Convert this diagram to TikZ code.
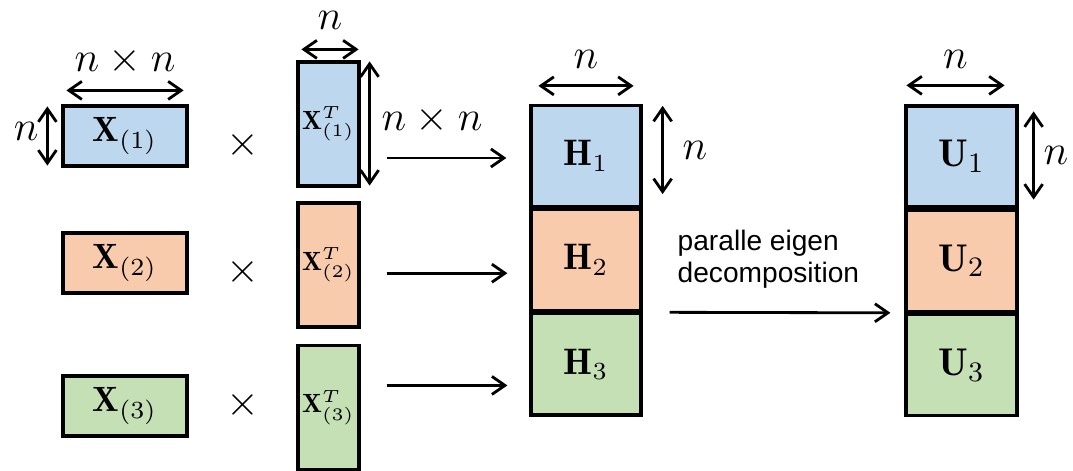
\documentclass[tikz,border=0pt]{standalone}
\usepackage{amsmath}
\usepackage{fontspec}
\newfontfamily\notefont{Liberation Sans}
\usetikzlibrary{positioning,calc,arrows.meta}

\definecolor{matblue}{RGB}{189,215,238}
\definecolor{matorange}{RGB}{248,203,173}
\definecolor{matgreen}{RGB}{197,224,180}

\tikzset{
    >={Straight Barb[length=1.3mm, width=1.8mm]},
    mat/.style={draw, line width=0.9pt, inner sep=0pt, font=\fontsize{10}{12}\selectfont},
    matT/.style={mat, minimum width=0.61cm, minimum height=1.24cm, font=\fontsize{7.5}{9}\selectfont},
    matX/.style={mat, minimum width=1.24cm, minimum height=0.60cm},
    matH/.style={mat, minimum width=1.10cm, minimum height=1.01cm, font=\fontsize{10.5}{12}\selectfont},
    matU/.style={mat, minimum width=1.11cm, minimum height=1.01cm, font=\fontsize{11}{13}\selectfont},
    dim/.style={<->, line width=0.8pt},
    flow/.style={->, line width=0.8pt},
    dimlabel/.style={font=\fontsize{13}{15}\selectfont, inner sep=1pt},
}

\begin{document}
\begin{tikzpicture}[x=0.01cm, y=-0.01cm]
    \useasboundingbox (0,0) rectangle (1073,471);

    % ==========================================
    % Left: blocks X_(i) and their transposes
    % ==========================================
    \node[matX, fill=matblue] (x1) at (125,136) {$\mathbf{X}_{(1)}$};
    \node[matX, fill=matorange] (x2) at (125,263) {$\mathbf{X}_{(2)}$};
    \node[matX, fill=matgreen] (x3) at (125,406) {$\mathbf{X}_{(3)}$};

    \node[dimlabel] (times1) at (243,145) {$\times$};
    \node[dimlabel] (times2) at (243,272) {$\times$};
    \node[dimlabel] (times3) at (243,405) {$\times$};

    \node[matT, fill=matblue] (xt1) at (328.5,124) {$\mathbf{X}^{T}_{(1)}$};
    \node[matT, fill=matorange] (xt2) at (328.5,265) {$\mathbf{X}^{T}_{(2)}$};
    \node[matT, fill=matgreen] (xt3) at (328.5,407.5) {$\mathbf{X}^{T}_{(3)}$};

    % Dimensions of the first block
    \draw[dim] ($(x1.north west)+(5,-14)$) -- ($(x1.north east)+(-5,-14)$)
        node[midway, above=0.1cm, dimlabel] (dimx) {$n \times n$};
    \draw[dim] ($(x1.north west)+(-14,2)$) -- ($(x1.south west)+(-14,-2)$)
        node[midway, left=0.04cm, dimlabel, yshift=0.05cm] (dimxh) {$n$};
    \draw[dim] ($(xt1.north west)+(5,-11)$) -- ($(xt1.north east)+(-2,-11)$)
        node[midway, above=0.15cm, dimlabel] (dimt) {$n$};
    \draw[dim] ($(xt1.north east)+(9,1)$) -- ($(xt1.south east)+(9,-2)$)
        node[midway, right=0.07cm, dimlabel, yshift=0.04cm] (dimth) {$n \times n$};

    % ==========================================
    % Middle: products H_i stacked
    % ==========================================
    \node[matH, fill=matblue] (h1) at (586,156) {$\mathbf{H}_1$};
    \node[matH, fill=matorange, below=0cm of h1] (h2) {$\mathbf{H}_2$};
    \node[matH, fill=matgreen, below=0cm of h2] (h3) {$\mathbf{H}_3$};

    \draw[flow] ($(xt1.east |- h1.west)+(26,2)$) -- ($(h1.west)+(-23,2)$);
    \draw[flow] ($(xt2.east |- h2.west)+(26,13)$) -- ($(h2.west)+(-22,13)$);
    \draw[flow] ($(xt3.east |- h3.west)+(26,21)$) -- ($(h3.west)+(-22,21)$);

    \draw[dim] ($(h1.north west)+(9,-18)$) -- ($(h1.north east)+(-9,-18)$)
        node[midway, above=0.12cm, dimlabel] (dimh) {$n$};
    \draw[dim] ($(h1.north east)+(20,2)$) -- ($(h1.south east)+(20,-14)$)
        node[midway, right=0.15cm, dimlabel] (dimhh) {$n$};

    % ==========================================
    % Right: eigenvectors U_i
    % ==========================================
    \node[matU, fill=matblue] (u1) at (961.5,156.5) {$\mathbf{U}_1$};
    \node[matU, fill=matorange, below=0cm of u1] (u2) {$\mathbf{U}_2$};
    \node[matU, fill=matgreen, below=0cm of u2] (u3) {$\mathbf{U}_3$};

    \draw[flow] ($(h3.north east)+(27,0)$) -- ($(u3.north west)+(-14,0)$);
    \node[anchor=west, align=left, font=\notefont\fontsize{8}{9}\selectfont, inner sep=0pt]
        (eigtext) at (677,259) {paralle eigen\\decomposition};

    \draw[dim] ($(u1.north west)+(2,-19)$) -- ($(u1.north east)+(-14,-19)$)
        node[midway, above=0.12cm, dimlabel] (dimu) {$n$};
    \draw[dim] ($(u1.north east)+(15,7)$) -- ($(u1.south east)+(15,-9)$)
        node[midway, right=0.05cm, dimlabel] (dimuh) {$n$};
\end{tikzpicture}
\end{document}
